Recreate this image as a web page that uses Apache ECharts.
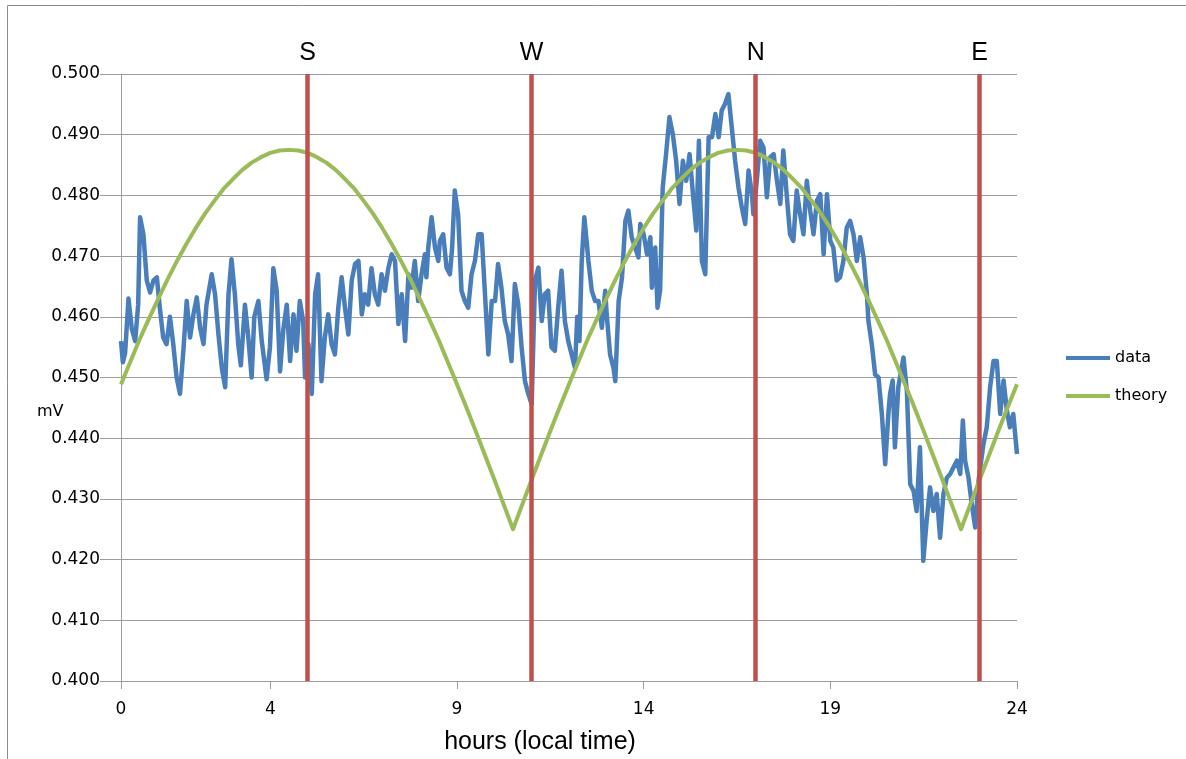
<!DOCTYPE html>
<html>
<head>
<meta charset="utf-8">
<script src="https://cdn.jsdelivr.net/npm/echarts@6/dist/echarts.min.js"></script>
<style>
html,body{margin:0;padding:0;background:#fff;}
#chart{width:1186px;height:759px;}
</style>
</head>
<body>
<div id="chart"></div>
<script>
// ---- data (hours, mV) ----
const dataPoints = [
[0.00,0.4560],[0.05,0.4525],[0.11,0.4540],[0.20,0.4630],[0.29,0.4580],[0.38,0.4560],[0.46,0.4620],[0.51,0.4764],[0.60,0.4736],[0.69,0.4660],
[0.78,0.4640],[0.87,0.4660],[0.96,0.4665],[1.04,0.4615],[1.13,0.4566],[1.22,0.4555],[1.31,0.4600],[1.40,0.4555],[1.49,0.4500],[1.58,0.4473],
[1.67,0.4544],[1.76,0.4626],[1.85,0.4566],[1.94,0.4604],[2.03,0.4632],[2.12,0.4582],[2.21,0.4555],[2.29,0.4620],[2.43,0.4670],[2.52,0.4637],
[2.61,0.4571],[2.70,0.4516],[2.79,0.4484],[2.88,0.4637],[2.96,0.4695],[3.05,0.4637],[3.14,0.4555],[3.21,0.4520],[3.32,0.4620],[3.41,0.4566],
[3.50,0.4500],[3.57,0.4600],[3.68,0.4626],[3.77,0.4560],[3.90,0.4497],[3.99,0.4550],[4.08,0.4680],
[4.17,0.4643],[4.26,0.4510],[4.35,0.4580],[4.44,0.4620],[4.53,0.4527],[4.62,0.4604],[4.70,0.4544],[4.79,0.4626],[4.88,0.4593],[4.93,0.4500],
[5.02,0.4555],[5.11,0.4473],[5.20,0.4637],[5.28,0.4670],[5.37,0.4494],[5.46,0.4566],[5.55,0.4604],[5.64,0.4555],[5.73,0.4538],[5.82,0.4615],
[5.91,0.4665],[6.00,0.4615],[6.09,0.4571],[6.18,0.4660],[6.27,0.4687],[6.36,0.4692],[6.45,0.4604],[6.53,0.4637],[6.62,0.4620],[6.71,0.4680],
[6.80,0.4637],[6.89,0.4620],[6.98,0.4670],[7.07,0.4643],[7.16,0.4680],[7.25,0.4703],[7.34,0.4692],[7.43,0.4588],[7.52,0.4637],[7.61,0.4560],
[7.70,0.4670],[7.78,0.4648],[7.87,0.4692],[7.96,0.4626],[8.05,0.4670],
[8.14,0.4703],[8.18,0.4665],[8.23,0.4714],[8.32,0.4764],[8.41,0.4714],[8.50,0.4692],[8.54,0.4725],[8.63,0.4736],[8.72,0.4681],[8.81,0.4670],
[8.87,0.4714],[8.94,0.4808],[9.03,0.4769],[9.12,0.4643],[9.21,0.4626],[9.30,0.4615],[9.39,0.4670],[9.48,0.4692],[9.57,0.4736],[9.66,0.4736],
[9.75,0.4637],[9.84,0.4538],[9.93,0.4626],[10.02,0.4626],[10.10,0.4687],[10.19,0.4648],[10.28,0.4593],[10.37,0.4571],[10.46,0.4527],[10.55,0.4654],
[10.64,0.4621],[10.73,0.4550],[10.82,0.4494],[10.91,0.4473],[11.00,0.4456],[11.09,0.4660],[11.18,0.4681],[11.27,0.4593],[11.35,0.4637],[11.44,0.4643],
[11.53,0.4550],[11.62,0.4544],[11.71,0.4615],[11.80,0.4676],[11.89,0.4593],[11.98,0.4560],[12.07,0.4538],[12.16,0.4516],[12.22,0.4600],[12.28,0.4560],
[12.34,0.4690],[12.41,0.4764],
[12.48,0.4720],[12.52,0.4692],[12.61,0.4643],[12.70,0.4626],[12.79,0.4626],[12.88,0.4582],[12.97,0.4643],[13.01,0.4604],[13.10,0.4538],[13.19,0.4516],
[13.24,0.4494],[13.33,0.4626],[13.42,0.4665],[13.51,0.4758],[13.59,0.4775],[13.68,0.4731],[13.77,0.4714],[13.86,0.4698],[13.91,0.4753],[14.00,0.4736],
[14.09,0.4703],[14.18,0.4731],[14.22,0.4648],[14.31,0.4714],[14.37,0.4615],[14.44,0.4643],[14.51,0.4813],[14.60,0.4868],[14.69,0.4929],[14.78,0.4901],
[14.87,0.4857],[14.96,0.4786],[15.05,0.4857],[15.14,0.4824],[15.23,0.4868],[15.32,0.4802],[15.41,0.4742],[15.48,0.4890],[15.56,0.4692],[15.65,0.4670],
[15.74,0.4896],[15.83,0.4896],[15.92,0.4934],[16.01,0.4896],[16.09,0.4940],[16.18,0.4951],[16.27,0.4967],[16.36,0.4912],
[16.45,0.4857],[16.54,0.4813],[16.63,0.4780],[16.72,0.4753],[16.81,0.4841],[16.90,0.4802],[16.94,0.4769],[17.03,0.4824],[17.12,0.4890],[17.21,0.4879],
[17.30,0.4797],[17.39,0.4863],[17.48,0.4868],[17.57,0.4824],[17.66,0.4786],[17.74,0.4874],[17.83,0.4802],[17.92,0.4736],[18.01,0.4725],[18.10,0.4808],
[18.19,0.4769],[18.28,0.4736],[18.37,0.4824],[18.46,0.4775],[18.55,0.4736],[18.64,0.4791],[18.73,0.4802],[18.82,0.4703],[18.91,0.4802],[19.00,0.4725],
[19.08,0.4714],[19.17,0.4660],[19.26,0.4665],[19.35,0.4692],[19.44,0.4747],[19.53,0.4758],[19.62,0.4736],[19.71,0.4692],[19.80,0.4731],[19.89,0.4698],
[19.98,0.4637],[20.02,0.4593],[20.11,0.4555],[20.20,0.4505],[20.29,0.4500],[20.38,0.4440],[20.47,0.4357],[20.56,0.4445],
[20.60,0.4473],[20.67,0.4495],[20.73,0.4385],[20.82,0.4484],[20.96,0.4533],[21.05,0.4478],[21.14,0.4324],[21.23,0.4313],[21.31,0.4280],[21.40,0.4385],
[21.49,0.4198],[21.58,0.4264],[21.67,0.4319],[21.76,0.4280],[21.85,0.4308],[21.94,0.4236],[22.03,0.4308],[22.12,0.4335],[22.21,0.4341],[22.30,0.4352],
[22.39,0.4363],[22.48,0.4341],[22.55,0.4429],[22.61,0.4363],[22.70,0.4335],[22.79,0.4291],[22.88,0.4253],[22.97,0.4330],[23.10,0.4390],[23.19,0.4418],
[23.28,0.4484],[23.37,0.4527],[23.46,0.4527],[23.55,0.4440],[23.64,0.4495],[23.73,0.4445],[23.81,0.4418],[23.90,0.4440],[24.00,0.4374]
];

// theory curve, one value every quarter hour from 0 to 24
const theoryStep = 0.25;
const theoryValues = [
0.4489,0.4526,0.4563,0.4597,0.4630,0.4662,0.4692,0.4720,0.4746,0.4770,0.4791,0.4811,0.4827,0.4842,0.4854,0.4863,0.4870,0.4874,0.4875,
0.4874,0.4870,0.4863,0.4854,0.4842,0.4827,0.4811,0.4791,0.4770,0.4746,0.4720,0.4692,0.4662,0.4630,0.4597,0.4563,0.4526,0.4489,0.4451,0.4412,0.4372,0.4332,0.4291,0.4250,
0.4291,0.4332,0.4372,0.4412,0.4451,0.4489,0.4526,0.4563,0.4597,0.4630,0.4662,0.4692,0.4720,0.4746,0.4770,0.4791,0.4811,0.4827,0.4842,0.4854,0.4863,0.4870,0.4874,0.4875,
0.4874,0.4870,0.4863,0.4854,0.4842,0.4827,0.4811,0.4791,0.4770,0.4746,0.4720,0.4692,0.4662,0.4630,0.4597,0.4563,0.4526,0.4489,0.4451,0.4412,0.4372,0.4332,0.4291,0.4250,
0.4291,0.4332,0.4372,0.4412,0.4451,0.4489
];

// compass direction markers
const markerHours = [5, 11, 17, 23];
const markerLabels = ['S', 'W', 'N', 'E'];

// axis ticks
const xTickValues = [0, 4, 9, 14, 19, 24];
const yMin = 0.400, yMax = 0.500, yStep = 0.010;

const seriesNames = ['data', 'theory'];
const xTitle = 'hours (local time)';
const yTitle = 'mV';

// ---- chart ----
const theoryPoints = theoryValues.map((v, i) => [i * theoryStep, v]);
const gridColor = '#9c9c9c';
const chart = echarts.init(document.getElementById('chart'), null, {renderer: 'canvas'});
chart.setOption({
  animation: false,
  backgroundColor: '#ffffff',
  grid: {left: 121, right: 169, top: 74, bottom: 78, containLabel: false},
  legend: {
    orient: 'vertical',
    left: 1061,
    top: 345,
    itemWidth: 44,
    itemHeight: 4,
    itemGap: 22,
    icon: 'rect',
    textStyle: {fontFamily: 'DejaVu Sans', fontSize: 16, color: '#000'},
    data: seriesNames
  },
  xAxis: {
    type: 'value',
    min: 0,
    max: 24,
    axisLine: {show: true, lineStyle: {color: gridColor, width: 1}},
    axisTick: {show: true, inside: false, length: 8, customValues: xTickValues, lineStyle: {color: gridColor}},
    axisLabel: {customValues: xTickValues, margin: 20, fontFamily: 'DejaVu Sans', fontSize: 17, color: '#000'},
    splitLine: {show: false}
  },
  yAxis: {
    type: 'value',
    min: yMin,
    max: yMax,
    interval: yStep,
    axisLine: {show: true, lineStyle: {color: gridColor, width: 1}},
    axisTick: {show: true, length: 21, lineStyle: {color: gridColor}},
    axisLabel: {margin: 21, fontFamily: 'DejaVu Sans', fontSize: 17, color: '#000',
      formatter: v => v.toFixed(3)},
    splitLine: {show: true, lineStyle: {color: gridColor, width: 1}}
  },
  series: [
    {
      name: seriesNames[0],
      type: 'line',
      data: dataPoints,
      symbol: 'none',
      lineStyle: {color: '#4A7EBB', width: 4.5, join: 'round'},
      itemStyle: {color: '#4A7EBB'},
      z: 2
    },
    {
      name: seriesNames[1],
      type: 'line',
      data: theoryPoints,
      symbol: 'none',
      lineStyle: {color: '#9BBB59', width: 4, join: 'round'},
      itemStyle: {color: '#9BBB59'},
      z: 3
    },
    {
      name: 'markers',
      type: 'line',
      data: [],
      z: 4,
      markLine: {
        silent: true,
        symbol: 'none',
        animation: false,
        lineStyle: {color: '#C0504D', width: 4.5, type: 'solid'},
        label: {
          show: true,
          position: 'end',
          distance: 8,
          fontFamily: 'Liberation Sans',
          fontSize: 25,
          color: '#000',
          formatter: p => p.name
        },
        data: markerHours.map((h, i) => ({xAxis: h, name: markerLabels[i]}))
      }
    }
  ],
  graphic: [
    {type: 'rect', shape: {x: 7.5, y: 5.5, width: 1300, height: 900},
     style: {fill: 'none', stroke: '#8c8c8c', lineWidth: 1}, silent: true},
    {type: 'text', left: 37, top: 404,
     style: {text: yTitle, font: '16px "DejaVu Sans"', fill: '#000'}},
    {type: 'text', x: 540, y: 742,
     style: {text: xTitle, font: '25px "Liberation Sans"', fill: '#000', textAlign: 'center', textVerticalAlign: 'middle'}}
  ]
});
</script>
</body>
</html>
